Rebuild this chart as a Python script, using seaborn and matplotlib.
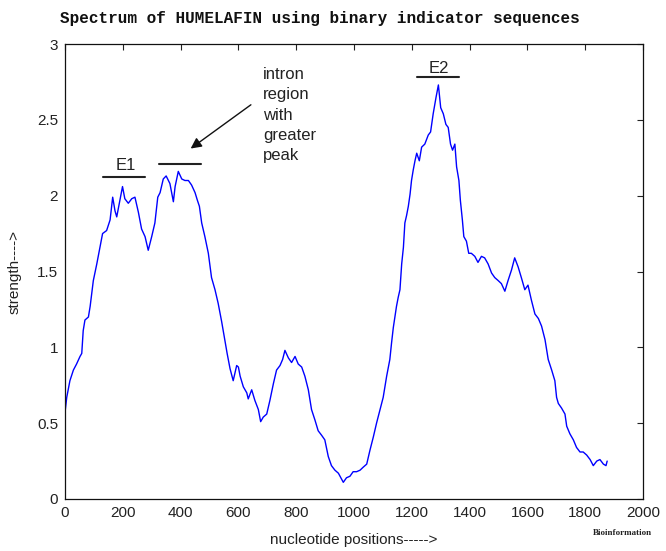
import matplotlib
matplotlib.use("Agg")
import matplotlib.pyplot as plt
import seaborn as sns
import pandas as pd

positions = [0, 6, 17, 29, 40, 52, 58, 63, 69, 81, 87, 92, 98, 110, 121, 130, 144, 156, 165, 173,
             179, 188, 199, 207, 219, 231, 242, 254, 265, 277, 288, 300, 311, 321, 329, 340, 350, 363,
             375, 381, 392, 404, 415, 427, 438, 450, 458, 465, 473, 484, 496, 507, 519, 530, 542, 553,
             561, 571, 582, 594, 600, 606, 617, 629, 634, 646, 657, 669, 677, 686, 698, 709, 721, 732,
             744, 753, 761, 773, 784, 796, 807, 819, 830, 842, 853, 865, 876, 888, 899, 911, 922, 934,
             946, 963, 974, 986, 997, 1009, 1021, 1032, 1044, 1055, 1067, 1078, 1090, 1101, 1113, 1124,
             1130, 1136, 1147, 1153, 1159, 1165, 1171, 1176, 1182, 1188, 1194, 1199, 1205, 1211, 1217,
             1226, 1234, 1245, 1257, 1265, 1274, 1284, 1292, 1300, 1309, 1318, 1326, 1334, 1341, 1349,
             1355, 1363, 1368, 1375, 1380, 1389, 1397, 1406, 1418, 1429, 1441, 1452, 1464, 1476, 1487,
             1499, 1510, 1522, 1533, 1545, 1556, 1568, 1579, 1591, 1602, 1614, 1626, 1638, 1649, 1661,
             1672, 1684, 1695, 1701, 1707, 1718, 1730, 1736, 1747, 1759, 1770, 1782, 1793, 1805, 1817,
             1828, 1840, 1851, 1863, 1872, 1876]
strength = [0.57, 0.67, 0.78, 0.85, 0.89, 0.94, 0.96, 1.11, 1.18, 1.20, 1.27, 1.35, 1.44, 1.55, 1.66,
            1.75, 1.77, 1.84, 1.99, 1.90, 1.86, 1.95, 2.06, 1.98, 1.95, 1.98, 1.99, 1.89, 1.78, 1.73,
            1.64, 1.73, 1.82, 1.99, 2.02, 2.11, 2.13, 2.08, 1.96, 2.06, 2.16, 2.11, 2.10, 2.10, 2.07,
            2.02, 1.97, 1.93, 1.82, 1.73, 1.62, 1.46, 1.38, 1.29, 1.17, 1.05, 0.96, 0.86, 0.78, 0.88,
            0.87, 0.81, 0.74, 0.70, 0.66, 0.72, 0.65, 0.59, 0.51, 0.54, 0.56, 0.65, 0.76, 0.85, 0.88,
            0.92, 0.98, 0.93, 0.90, 0.94, 0.89, 0.87, 0.81, 0.72, 0.59, 0.52, 0.45, 0.42, 0.39, 0.28,
            0.22, 0.19, 0.17, 0.11, 0.14, 0.15, 0.18, 0.18, 0.19, 0.21, 0.23, 0.32, 0.41, 0.50, 0.59,
            0.67, 0.81, 0.92, 1.03, 1.13, 1.27, 1.33, 1.38, 1.55, 1.66, 1.82, 1.87, 1.93, 2.01, 2.10,
            2.17, 2.23, 2.28, 2.23, 2.32, 2.34, 2.40, 2.42, 2.54, 2.65, 2.73, 2.58, 2.54, 2.47, 2.45,
            2.34, 2.30, 2.34, 2.19, 2.10, 1.97, 1.84, 1.73, 1.70, 1.62, 1.62, 1.60, 1.56, 1.60, 1.59,
            1.55, 1.49, 1.46, 1.44, 1.42, 1.37, 1.44, 1.51, 1.59, 1.53, 1.46, 1.38, 1.41, 1.31, 1.22,
            1.19, 1.14, 1.05, 0.92, 0.85, 0.78, 0.67, 0.63, 0.60, 0.56, 0.48, 0.43, 0.39, 0.34, 0.31,
            0.31, 0.29, 0.26, 0.22, 0.25, 0.26, 0.23, 0.22, 0.25]

x_ticks = [0, 200, 400, 600, 800, 1000, 1200, 1400, 1600, 1800, 2000]
y_ticks = [0, 0.5, 1, 1.5, 2, 2.5, 3]
y_tick_labels = ["0", "0.5", "1", "1.5", "2", "2.5", "3"]

title = "Spectrum of HUMELAFIN using binary indicator sequences"
x_label = "nucleotide positions----->"
y_label = "strength---->"
intron_note = "intron\nregion\nwith\ngreater\npeak"

sns.set_style("white")
plt.rcParams["font.family"] = ["Liberation Sans", "DejaVu Sans"]

fig = plt.figure(figsize=(6.66, 5.51), dpi=100)
ax = fig.add_axes([65 / 666, 1 - 499 / 551, 578 / 666, 455 / 551])

df = pd.DataFrame({"pos": positions, "strength": strength})
sns.lineplot(data=df, x="pos", y="strength", color="#0000ff", linewidth=1.0,
             estimator=None, sort=False, ax=ax)

ax.set_xlim(0, 2000)
ax.set_ylim(0, 3)
ax.set_xticks(x_ticks)
ax.set_xticklabels([str(t) for t in x_ticks])
ax.set_yticks(y_ticks)
ax.set_yticklabels(y_tick_labels)
ax.tick_params(direction="in", length=4, width=0.8, top=True, right=True,
               labelsize=11, colors="#222222", pad=5)
for s in ax.spines.values():
    s.set_visible(True)
    s.set_color("#111111")
    s.set_linewidth(0.9)

ax.set_xlabel(x_label, fontsize=11, color="#222222")
ax.set_ylabel(y_label, fontsize=11, color="#222222")
ax.xaxis.set_label_coords(0.5, -0.075)
ax.yaxis.set_label_coords(-0.075, 0.5)

fig.text(320 / 666, 1 - 18 / 551, title, ha="center", va="center",
         family=["Liberation Mono", "DejaVu Sans Mono"], fontsize=11.5,
         weight="bold", color="#111111")

# exon / intron markers
ax.plot([130, 277], [2.12, 2.12], color="#222222", lw=1.5)
ax.text(210, 2.15, "E1", ha="center", va="bottom", fontsize=12, color="#222222")
ax.plot([325, 470], [2.21, 2.21], color="#222222", lw=1.5)
ax.plot([1217, 1363], [2.78, 2.78], color="#222222", lw=1.5)
ax.text(1292, 2.79, "E2", ha="center", va="bottom", fontsize=12, color="#222222")

ax.annotate("", xy=(427, 2.30), xytext=(651, 2.61),
            arrowprops=dict(arrowstyle="-|>", color="#111111", lw=1.0, mutation_scale=16))
ax.text(686, 2.85, intron_note, ha="left", va="top", fontsize=12,
        color="#222222", linespacing=1.45)

fig.text(622 / 666, 1 - 533 / 551, "Bioinformation", ha="center", va="center",
         family=["Liberation Serif", "DejaVu Serif"], fontsize=6.5, weight="bold",
         color="#222222")

fig.savefig("out.png", dpi=100, facecolor="white")
